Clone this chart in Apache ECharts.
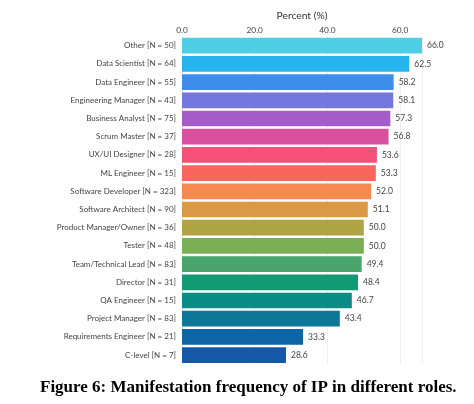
<!DOCTYPE html>
<html>
<head>
<meta charset="utf-8">
<script src="https://cdn.jsdelivr.net/npm/echarts@6/dist/echarts.min.js"></script>
<style>
html,body{margin:0;padding:0;background:#fff;}
#c{width:474px;height:404px;}
</style>
</head>
<body>
<div id="c"></div>
<script>
const categories = [
  "Other [N = 50]",
  "Data Scientist [N = 64]",
  "Data Engineer [N = 55]",
  "Engineering Manager [N = 43]",
  "Business Analyst [N = 75]",
  "Scrum Master [N = 37]",
  "UX/UI Designer [N = 28]",
  "ML Engineer [N = 15]",
  "Software Developer [N = 323]",
  "Software Architect [N = 90]",
  "Product Manager/Owner [N = 36]",
  "Tester [N = 48]",
  "Team/Technical Lead [N = 83]",
  "Director [N = 31]",
  "QA Engineer [N = 15]",
  "Project Manager [N = 83]",
  "Requirements Engineer [N = 21]",
  "C-level [N = 7]"
];
const percents = [66.0, 62.5, 58.2, 58.1, 57.3, 56.8, 53.6, 53.3, 52.0, 51.1, 50.0, 50.0, 49.4, 48.4, 46.7, 43.4, 33.3, 28.6];
const barColors = [
  "#4ECFE6", "#26B4EE", "#3D8EEA", "#7478DE", "#A55CC8", "#D9509F",
  "#F65079", "#F9665D", "#F7884E", "#DA9A45", "#AEA444", "#7BAF55",
  "#48A46A", "#129A74", "#0B8C86", "#0C7796", "#0D64A7", "#1458A7"
];
const xTicks = [0, 20, 40, 60];
const caption = "Figure 6: Manifestation frequency of IP in different roles.";

const chart = echarts.init(document.getElementById('c'), null, {renderer: 'canvas'});
chart.setOption({
  animation: false,
  backgroundColor: '#fff',
  grid: {left: 182, top: 36.6, width: 240, height: 327.6, containLabel: false},
  xAxis: {
    type: 'value',
    position: 'top',
    min: xTicks[0],
    max: 66,
    interval: xTicks[1] - xTicks[0],
    name: 'Percent (%)',
    nameLocation: 'middle',
    nameGap: 16,
    nameTextStyle: {color: '#333', fontSize: 10.3, fontFamily: 'Lato'},
    axisLine: {show: false},
    axisTick: {show: false},
    axisLabel: {
      margin: 2,
      color: '#444',
      fontSize: 8.3,
      fontFamily: 'Lato',
      showMaxLabel: false,
      formatter: v => v.toFixed(1)
    },
    splitLine: {show: true, lineStyle: {color: '#eeeeee', width: 1}}
  },
  yAxis: {
    type: 'category',
    inverse: true,
    data: categories,
    axisLine: {show: false},
    axisTick: {show: false},
    axisLabel: {margin: 6, color: '#444', fontSize: 8, fontFamily: 'Lato'}
  },
  series: [{
    type: 'bar',
    data: percents.map((v, i) => ({value: v, itemStyle: {color: barColors[i]}})),
    barCategoryGap: '14%',
    label: {
      show: true,
      position: 'right',
      distance: 5,
      color: '#444',
      fontSize: 8.5,
      fontFamily: 'Lato',
      formatter: p => p.value.toFixed(1)
    }
  }],
  graphic: [{
    type: 'text',
    left: 40,
    top: 379,
    style: {
      text: caption,
      font: 'bold 17px "Liberation Serif", "Times New Roman", serif',
      fill: '#000'
    }
  }]
});
</script>
</body>
</html>
